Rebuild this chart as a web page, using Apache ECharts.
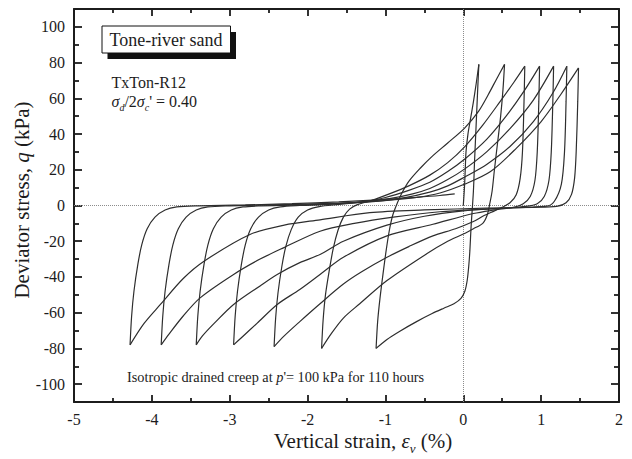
<!DOCTYPE html>
<html>
<head>
<meta charset="utf-8">
<script src="https://cdn.jsdelivr.net/npm/echarts@6/dist/echarts.min.js"></script>
<style>
  html, body { margin: 0; padding: 0; background: #fff; }
  #chart { width: 632px; height: 459px; }
</style>
</head>
<body>
<div id="chart"></div>
<script>
// Tick values
const xTicks = [-5, -4, -3, -2, -1, 0, 1, 2];
const yLabelMin = -100;
const yLabelMax = 100;
const yFrameMin = -110;
const yFrameMax = 110;

// Each branch: [vertical strain (%), deviator stress q (kPa)]
const firstLoading = [[0, 0], [0.015, 10], [0.025, 20], [0.035, 30], [0.06, 40], [0.095, 49], [0.13, 58], [0.165, 68], [0.2, 79]];

const unloading1 = [[0.2, 79], [0.185, 65], [0.165, 45], [0.145, 25], [0.13, 8], [0.1, -12], [0.085, -25], [0.07, -34], [0.05, -42], [0.02, -48], [-0.03, -52], [-0.12, -55], [-0.25, -57.5], [-0.4, -60.5], [-0.6, -65], [-0.82, -70.5], [-0.98, -75], [-1.12, -80]];
const loading1 = [[-1.12, -80], [-1.1, -65], [-1.07, -52], [-1.03, -38], [-0.99, -25], [-0.95, -14], [-0.91, -6], [-0.86, 0], [-0.8, 6], [-0.7, 13.5], [-0.55, 21], [-0.4, 27.5], [-0.2, 35], [0.02, 43.5], [0.2, 53], [0.32, 62], [0.43, 71], [0.53, 79]];

const unloading2 = [[0.53, 79], [0.51, 65], [0.48, 50], [0.44, 35], [0.4, 20], [0.37, 8], [0.34, 1], [0.31, -5], [0.25, -10], [0.13, -13], [0.0, -16], [-0.2, -20], [-0.47, -27], [-0.98, -42], [-1.33, -55], [-1.54, -63], [-1.7, -72], [-1.82, -80]];
const loading2 = [[-1.82, -80], [-1.8, -64], [-1.77, -50], [-1.72, -36], [-1.67, -24], [-1.61, -14], [-1.54, -6.5], [-1.46, -2], [-1.36, 0.5], [-1.2, 2.5], [-0.95, 6.5], [-0.7, 11], [-0.43, 17], [-0.2, 24], [0.02, 33], [0.25, 45], [0.47, 58], [0.65, 69], [0.79, 78]];

const unloading3 = [[0.79, 78], [0.78, 58], [0.76, 30], [0.73, 15], [0.68, 6], [0.6, 1.5], [0.5, -1], [0.4, -3], [0.25, -6], [0.13, -9], [-0.1, -13], [-0.39, -17], [-0.7, -23], [-0.98, -29], [-1.3, -37], [-1.54, -44], [-1.84, -55], [-2.1, -65], [-2.3, -73], [-2.43, -79]];
const loading3 = [[-2.43, -79], [-2.41, -63], [-2.38, -49], [-2.33, -34], [-2.28, -23], [-2.21, -13.5], [-2.12, -6.5], [-2.0, -2.5], [-1.85, -0.6], [-1.6, 0.6], [-1.3, 2], [-1.0, 4.5], [-0.7, 8.5], [-0.43, 13], [-0.2, 19], [0.02, 26], [0.3, 37], [0.55, 50], [0.78, 64], [0.98, 78]];

const unloading4 = [[0.98, 78], [0.97, 58], [0.95, 30], [0.92, 14], [0.86, 5], [0.77, 1], [0.65, -1], [0.4, -2.5], [0.13, -4.5], [-0.39, -10.5], [-0.98, -17], [-1.54, -29], [-1.84, -38.6], [-2.1, -47], [-2.39, -55.4], [-2.65, -66], [-2.85, -74], [-2.95, -78]];
const loading4 = [[-2.95, -78], [-2.93, -62], [-2.9, -48], [-2.85, -33], [-2.8, -22], [-2.73, -13], [-2.63, -6.5], [-2.5, -2.5], [-2.35, -0.8], [-2.1, 0], [-1.7, 0.8], [-1.3, 2], [-0.95, 3.8], [-0.65, 6.5], [-0.43, 9.5], [-0.2, 14.5], [0.02, 20.5], [0.3, 30], [0.6, 43], [0.9, 59], [1.16, 78]];

const unloading5 = [[1.16, 78], [1.15, 58], [1.13, 30], [1.1, 14], [1.04, 5], [0.95, 1], [0.8, -0.5], [0.5, -1.5], [0.0, -3], [-0.5, -6], [-0.98, -11], [-1.54, -20], [-1.84, -27.4], [-2.1, -32], [-2.39, -38.6], [-2.61, -45], [-2.95, -55.4], [-3.2, -66], [-3.35, -73], [-3.43, -78]];
const loading5 = [[-3.43, -78], [-3.41, -62], [-3.38, -48], [-3.33, -33], [-3.28, -22], [-3.21, -13], [-3.11, -6.5], [-2.98, -2.5], [-2.83, -0.8], [-2.6, -0.2], [-2.2, 0.2], [-1.7, 0.8], [-1.2, 2], [-0.8, 4], [-0.43, 7.5], [-0.2, 11], [0.02, 16], [0.3, 23], [0.6, 33], [0.9, 47], [1.15, 63], [1.33, 78]];

const unloading6 = [[1.33, 78], [1.32, 58], [1.3, 30], [1.26, 12], [1.17, 2.4], [1.07, -0.4], [0.8, -1], [0.3, -2], [-0.3, -3.5], [-0.9, -6.5], [-1.4, -10], [-1.84, -14.4], [-2.31, -23.7], [-2.61, -30], [-2.95, -38.6], [-3.38, -51.7], [-3.6, -62], [-3.78, -72], [-3.88, -78]];
const loading6 = [[-3.88, -78], [-3.86, -62], [-3.83, -48], [-3.78, -33], [-3.73, -22], [-3.66, -13], [-3.56, -6.5], [-3.43, -2.5], [-3.28, -0.8], [-3.0, -0.2], [-2.5, 0.3], [-2.0, 0.8], [-1.5, 1.5], [-1.0, 2.8], [-0.6, 4.5], [-0.3, 7], [0.02, 12], [0.35, 19], [0.68, 32], [1.0, 47], [1.25, 62], [1.48, 77]];

const unloading7 = [[1.48, 77], [1.47, 58], [1.45, 30], [1.43, 15.5], [1.39, 6.2], [1.32, 1.5], [1.2, -0.5], [0.9, -1], [0.3, -1.5], [-0.5, -2.5], [-1.2, -4], [-1.84, -8], [-2.3, -11], [-2.74, -16.2], [-3.33, -31.2], [-3.6, -41], [-3.89, -55.4], [-4.1, -66], [-4.28, -78]];
const loading7 = [[-4.28, -78], [-4.26, -62], [-4.23, -48], [-4.18, -33], [-4.13, -22], [-4.06, -13], [-3.96, -6.5], [-3.83, -2.5], [-3.68, -0.8], [-3.4, -0.2], [-2.8, 0.3], [-2.2, 1], [-1.6, 2], [-1.1, 3.2], [-0.6, 4.6], [-0.3, 5.6], [-0.11, 6.5]];

const branches = [
  firstLoading,
  unloading1, loading1, unloading2, loading2, unloading3, loading3,
  unloading4, loading4, unloading5, loading5, unloading6, loading6,
  unloading7, loading7
];

const serif = '"Liberation Serif", "DejaVu Serif", "Times New Roman", serif';
const ink = '#1c1c1c';
const curveColor = '#2e2e2e';

const chart = echarts.init(document.getElementById('chart'), null, { renderer: 'svg' });

const series = branches.map(function (pts, i) {
  const s = {
    type: 'line',
    data: pts,
    xAxisIndex: 0,
    yAxisIndex: 0,
    showSymbol: false,
    symbol: 'none',
    smooth: 0.3,
    silent: true,
    animation: false,
    lineStyle: { color: curveColor, width: 1.2 },
    z: 3
  };
  if (i === 0) {
    s.markLine = {
      silent: true,
      symbol: ['none', 'none'],
      label: { show: false },
      animation: false,
      lineStyle: { type: 'dotted', color: '#8c8c8c', width: 1 },
      data: [{ xAxis: 0 }, { yAxis: 0 }],
      z: 1
    };
  }
  return s;
});

function tickStyle() {
  return { color: ink, width: 1.8 };
}

// Plot frame geometry; the second grid spans only the labelled range -100..100
const gridLeft = 74, gridRight = 13, gridTop = 9, gridBottom = 57;
const plotHeight = 459 - gridTop - gridBottom;
const inset = plotHeight * (yFrameMax - yLabelMax) / (yFrameMax - yFrameMin);

function frameAxis(extra) {
  return Object.assign({
    type: 'value',
    axisLine: { show: true, onZero: false, lineStyle: { color: ink, width: 2 } },
    splitLine: { show: false }
  }, extra);
}

const option = {
  animation: false,
  backgroundColor: '#fff',
  grid: [
    { left: gridLeft, right: gridRight, top: gridTop, bottom: gridBottom, containLabel: false },
    { left: gridLeft, right: gridRight, top: gridTop + inset, bottom: gridBottom + inset, containLabel: false }
  ],
  xAxis: [
    frameAxis({
      gridIndex: 0, position: 'bottom', min: -5, max: 2, interval: 1,
      axisTick: { show: true, inside: true, length: 7, lineStyle: tickStyle() },
      minorTick: { show: true, splitNumber: 2, length: 4, lineStyle: tickStyle() },
      axisLabel: { show: true, margin: 9, color: ink, fontFamily: serif, fontSize: 16, customValues: xTicks }
    }),
    frameAxis({
      gridIndex: 0, position: 'top', min: -5, max: 2, interval: 1,
      axisTick: { show: true, inside: true, length: 7, lineStyle: tickStyle() },
      minorTick: { show: true, splitNumber: 2, length: 4, lineStyle: tickStyle() },
      axisLabel: { show: false }
    }),
    { type: 'value', gridIndex: 1, min: -5, max: 2, show: false }
  ],
  yAxis: [
    // frame with short ticks at the odd tens (counted from -110)
    frameAxis({
      gridIndex: 0, position: 'left', min: yFrameMin, max: yFrameMax, interval: 20,
      axisTick: { show: true, inside: true, length: 5, lineStyle: tickStyle() },
      axisLabel: { show: false }
    }),
    frameAxis({
      gridIndex: 0, position: 'right', min: yFrameMin, max: yFrameMax, interval: 20,
      axisTick: { show: true, inside: true, length: 5, lineStyle: tickStyle() },
      axisLabel: { show: false }
    }),
    // long ticks and labels every 20 kPa
    frameAxis({
      gridIndex: 1, position: 'left', min: yLabelMin, max: yLabelMax, interval: 20,
      axisLine: { show: false, onZero: false },
      axisTick: { show: true, inside: true, length: 8, lineStyle: tickStyle() },
      axisLabel: { show: true, margin: 9, color: ink, fontFamily: serif, fontSize: 16 }
    }),
    frameAxis({
      gridIndex: 1, position: 'right', min: yLabelMin, max: yLabelMax, interval: 20,
      axisLine: { show: false, onZero: false },
      axisTick: { show: true, inside: true, length: 8, lineStyle: tickStyle() },
      axisLabel: { show: false }
    })
  ],
  series: series,
  graphic: [
    // label box with a solid drop shadow
    { type: 'rect', left: 107.5, top: 32, shape: { width: 128.5, height: 27 }, style: { fill: '#111' }, z: 10 },
    { type: 'rect', left: 101.5, top: 25.5, shape: { width: 128.5, height: 27 }, style: { fill: '#fff', stroke: '#111', lineWidth: 1 }, z: 11 },
    { type: 'text', x: 166, y: 39.5, z: 12, style: { text: 'Tone-river sand', fill: ink, font: '18px ' + serif, align: 'center', verticalAlign: 'middle' } },
    { type: 'text', x: 111.5, y: 82, z: 12, style: { text: 'TxTon-R12', fill: ink, font: '16px ' + serif, align: 'left', verticalAlign: 'middle' } },
    {
      type: 'text', x: 111.5, y: 101, z: 12,
      style: {
        text: '{i|σ}{s|d}{n|/2}{i|σ}{s|c}{n|\' = 0.40}',
        align: 'left', verticalAlign: 'middle',
        rich: {
          i: { fontFamily: serif, fontSize: 16, fontStyle: 'italic', fill: ink, lineHeight: 22, verticalAlign: 'middle' },
          n: { fontFamily: serif, fontSize: 16, fill: ink, lineHeight: 22, verticalAlign: 'middle' },
          s: { fontFamily: serif, fontSize: 10, fontStyle: 'italic', fill: ink, lineHeight: 10, verticalAlign: 'bottom' }
        }
      }
    },
    {
      type: 'text', x: 127, y: 376.5, z: 12,
      style: {
        text: '{n|Isotropic drained creep at }{i|p}{n|\'= 100 kPa for 110 hours}',
        align: 'left', verticalAlign: 'middle',
        rich: {
          n: { fontFamily: serif, fontSize: 14.3, fill: ink },
          i: { fontFamily: serif, fontSize: 14.3, fontStyle: 'italic', fill: ink }
        }
      }
    },
    // axis titles
    {
      type: 'text', x: 363, y: 441, z: 12,
      style: {
        text: '{n|Vertical strain, }{i|ε}{s|v}{n| (%)}',
        align: 'center', verticalAlign: 'middle',
        rich: {
          n: { fontFamily: serif, fontSize: 21, fill: ink, lineHeight: 28, verticalAlign: 'middle' },
          i: { fontFamily: serif, fontSize: 21, fontStyle: 'italic', fill: ink, lineHeight: 28, verticalAlign: 'middle' },
          s: { fontFamily: serif, fontSize: 13, fontStyle: 'italic', fill: ink, lineHeight: 13, verticalAlign: 'bottom' }
        }
      }
    },
    {
      type: 'text', x: 22, y: 200, rotation: Math.PI / 2, z: 12,
      style: {
        text: '{n|Deviator stress, }{i|q}{n| (kPa)}',
        align: 'center', verticalAlign: 'middle',
        rich: {
          n: { fontFamily: serif, fontSize: 21, fill: ink },
          i: { fontFamily: serif, fontSize: 21, fontStyle: 'italic', fill: ink }
        }
      }
    }
  ]
};

chart.setOption(option);
</script>
</body>
</html>
